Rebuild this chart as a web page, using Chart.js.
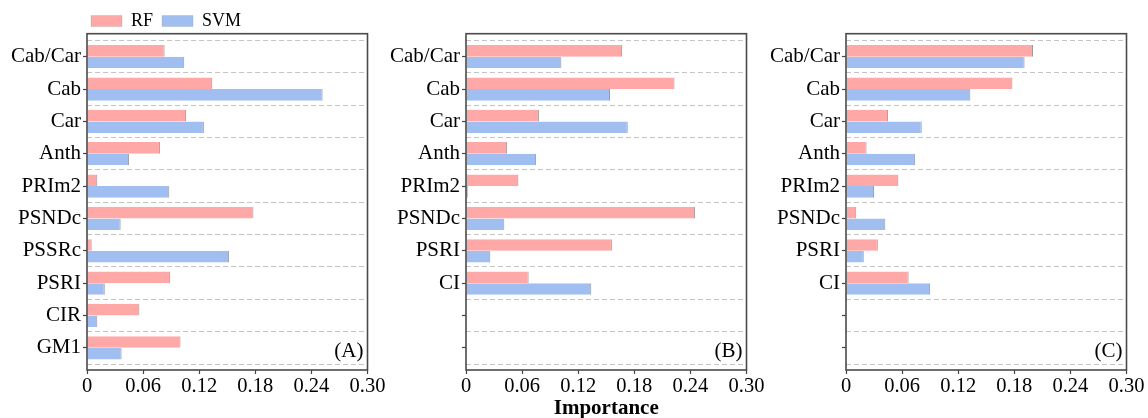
<!DOCTYPE html>
<html><head><meta charset="utf-8">
<script src="https://cdn.jsdelivr.net/npm/chart.js@4.4.1/dist/chart.umd.min.js"></script>
<style>
html,body{margin:0;padding:0;background:#fff;width:1148px;height:418px;overflow:hidden;position:relative;}
canvas{position:absolute;top:0;}
</style></head><body>
<canvas id="cA" width="390" height="418" style="left:0px"></canvas>
<canvas id="cB" width="390" height="450" style="left:379px"></canvas>
<canvas id="cC" width="390" height="418" style="left:759px"></canvas>
<script>
const labelsA = ['Cab/Car','Cab','Car','Anth','PRIm2','PSNDc','PSSRc','PSRI','CIR','GM1'];
const rfA  = [0.083, 0.134, 0.106, 0.078, 0.011, 0.178, 0.005, 0.089, 0.056, 0.100];
const svmA = [0.104, 0.252, 0.125, 0.045, 0.088, 0.036, 0.152, 0.019, 0.011, 0.037];

const labelsBC = ['Cab/Car','Cab','Car','Anth','PRIm2','PSNDc','PSRI','CI','',''];
const rfB  = [0.167, 0.223, 0.078, 0.044, 0.056, 0.245, 0.156, 0.067, null, null];
const svmB = [0.102, 0.154, 0.173, 0.075, 0.002, 0.041, 0.026, 0.134, null, null];
const rfC  = [0.200, 0.178, 0.045, 0.022, 0.056, 0.011, 0.034, 0.067, null, null];
const svmC = [0.191, 0.133, 0.081, 0.074, 0.030, 0.042, 0.019, 0.090, null, null];

const xTickLabels = ['0','0.06','0.12','0.18','0.24','0.30'];
const seriesNames = ['RF','SVM'];
const panelTags = ['(A)','(B)','(C)'];
const axisTitle = 'Importance';

Chart.defaults.font.family = '"Liberation Serif", "Times New Roman", serif';
Chart.defaults.color = '#000';

const framePlugin = {
  id: 'frame',
  afterDatasetsDraw(chart, args, o) {
    const {ctx, chartArea: a} = chart;
    ctx.save();
    ctx.strokeStyle = '#4a4a4a';
    ctx.lineWidth = 1.6;
    ctx.strokeRect(a.left, a.top - 6.8, a.right - a.left, a.bottom - a.top + 12.8);
    ctx.font = '21px "Liberation Serif"';
    ctx.fillStyle = '#000';
    ctx.textAlign = 'right';
    ctx.textBaseline = 'middle';
    ctx.fillText(o.tag || '', a.right - 4, a.bottom - 12.5);
    ctx.restore();
  }
};

const legendFix = {
  id: 'legendFix',
  beforeLayout(chart) {
    const lg = chart.legend;
    if (lg && lg.options.display && !lg._patched) {
      const f = lg.fit;
      lg.fit = function() { f.call(this); this.height = 37.5; };
      lg._patched = true;
    }
  },
  afterLayout(chart) {
    const lg = chart.legend;
    if (lg && lg.options.display) { lg.left = 82; }
  }
};

function makePanel(id, labels, rf, svm, tag, withLegend, withTitle) {
  const ctx = document.getElementById(id);
  return new Chart(ctx, {
    type: 'bar',
    data: {
      labels: labels,
      datasets: [
        {label: seriesNames[0], data: rf, backgroundColor: '#FFA8A8', borderColor: 'rgba(120,120,120,0.75)',
         borderWidth: {top: 0, right: 1, bottom: 0, left: 0}, borderSkipped: 'start'},
        {label: seriesNames[1], data: svm, backgroundColor: '#A1BEF0', borderColor: 'rgba(120,120,120,0.75)',
         borderWidth: {top: 0, right: 1, bottom: 0, left: 0}, borderSkipped: 'start'}
      ]
    },
    options: {
      indexAxis: 'y',
      responsive: false,
      animation: false,
      categoryPercentage: 0.72,
      barPercentage: 1.0,
      layout: {padding: {left: 0, right: 22.5, top: withLegend ? 3 : 40.5, bottom: withTitle ? 16 : 14}},
      plugins: {
        legend: {
          display: withLegend,
          position: 'top',
          align: 'start',
          labels: {boxWidth: 31, boxHeight: 11, padding: 9, font: {size: 18}, color: '#000'}
        },
        tooltip: {enabled: false},
        frame: {tag: tag}
      },
      scales: {
        x: {
          type: 'linear', min: 0, max: 0.3,
          afterFit: s => { s.height = withTitle ? 70 : 40; },
          ticks: {stepSize: 0.06, padding: 0, font: {size: 20.5}, color: '#000',
                  callback: (v, i) => xTickLabels[i]},
          grid: {display: true, drawOnChartArea: false, drawTicks: true, tickLength: 10,
                 tickBorderDash: [0, 6, 4, 100], tickColor: '#444', tickWidth: 1.2},
          border: {display: false},
          title: withTitle ? {display: true, text: axisTitle, font: {size: 21, weight: 'bold'}, color: '#000',
                              padding: {top: 0, bottom: 12.4}} : {display: false}
        },
        y: {
          type: 'category', offset: true,
          afterFit: s => { s.width = 87; },
          ticks: {autoSkip: false, padding: 2, font: {size: 21}, color: '#000'},
          grid: {display: true, offset: false, drawOnChartArea: false, tickLength: 4, tickColor: '#444', tickWidth: 1.2},
          border: {display: false}
        },
        y2: {
          type: 'category', position: 'right', offset: true,
          afterFit: s => { s.width = 0; },
          ticks: {display: false},
          grid: {display: true, offset: true, drawTicks: false, color: '#c4c4c4', lineWidth: 1},
          border: {display: false, dash: [5, 3]}
        }
      }
    },
    plugins: [framePlugin, legendFix]
  });
}

makePanel('cA', labelsA, rfA, svmA, panelTags[0], true, false);
makePanel('cB', labelsBC, rfB, svmB, panelTags[1], false, true);
makePanel('cC', labelsBC, rfC, svmC, panelTags[2], false, false);
</script></body></html>
